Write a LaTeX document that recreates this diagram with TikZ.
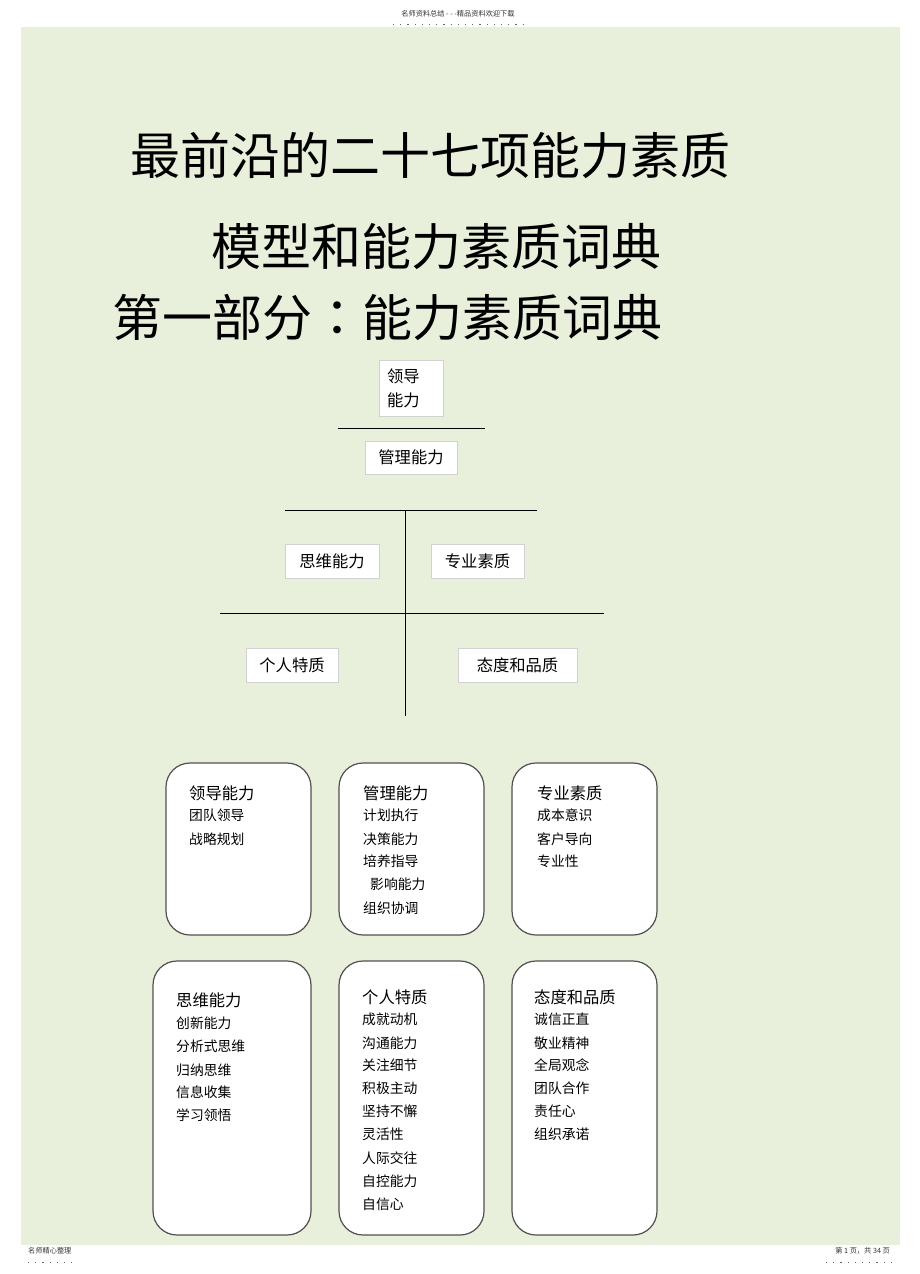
\documentclass[tikz,border=0pt]{standalone}
\usepackage{fontspec}
\setmainfont{Noto Sans CJK SC}
\newfontfamily\tcfont{Noto Sans CJK TC}
\definecolor{bg}{HTML}{E8F0DC}
\definecolor{boxline}{HTML}{D2D2D2}
\definecolor{rline}{HTML}{505050}
\begin{document}
\begin{tikzpicture}[x=1pt,y=-1pt,
  title/.style={inner sep=0, font=\fontsize{50}{56}\selectfont},
  tbox/.style={draw=boxline, line width=0.8, fill=white, inner sep=0, font=\fontsize{16.3}{24}\selectfont},
  rbox/.style={draw=rline, line width=1.2, fill=white, rounded corners=24, inner sep=0},
  head/.style={inner sep=0, anchor=west, font=\fontsize{16.3}{20}\selectfont},
  item/.style={inner sep=0, anchor=west, font=\fontsize{13.8}{16}\selectfont},
  small/.style={inner sep=0, font=\fontsize{7.2}{9}\selectfont, text=black!80},
  dots/.style={black!60, line width=0.8, dash pattern=on 1.2pt off 6pt},
  rule/.style={black, line width=1}]
\useasboundingbox (0,0) rectangle (920,1274);
\fill[white] (0,0) rectangle (920,1274);
\fill[bg] (21,27) rectangle (900,1245);

% header / footer
\node[small] (hdr) at (458,14) {名师资料总结 - - -精品资料欢迎下载};
\draw[dots] (393,24) -- (527,24);
\node[small, anchor=west] (fl) at (28,1251) {名师精心整理};
\draw[dots] (28,1262) -- (76,1262);
\node[small, anchor=east] (fr) at (890,1251) {第 1 页，共 34 页};
\draw[dots] (826,1262) -- (893,1262);

% titles
\node[title] (t1) at (430.5,155) {最前沿的二十七项能力素质};
\node[title] (t2) at (436.5,247) {模型和能力素质词典};
\node[title] (t3) at (387,317) {第一部分{\tcfont ：}能力素质词典};

% top structure
\node[tbox, text width=48, inner xsep=8, minimum height=56, align=left] (lead) at (411,388) {领导\\能力};
\coordinate (l1a) at (338,428); \coordinate (l1b) at (485,428);
\draw[rule] (l1a) -- (l1b);
\node[tbox, minimum width=92, minimum height=33] (mgmt) at (411,457.5) {管理能力};
\coordinate (l2a) at (285,510); \coordinate (l2b) at (537,510);
\coordinate (va) at (405,510); \coordinate (vb) at (405,716);
\draw[rule] (l2a) -- (l2b);
\draw[rule] (va) -- (vb);
\node[tbox, minimum width=94, minimum height=34] (think) at (332,561) {思维能力};
\node[tbox, minimum width=93, minimum height=34] (prof) at (477.5,561) {专业素质};
\coordinate (l3a) at (220,613); \coordinate (l3b) at (604,613);
\draw[rule] (l3a) -- (l3b);
\node[tbox, minimum width=92, minimum height=34] (pers) at (292,665) {个人特质};
\node[tbox, minimum width=119, minimum height=34] (att) at (517.5,665) {态度和品质};

% rounded boxes row 1
\node[rbox, minimum width=145, minimum height=172] (c1) at (238.5,849) {};
\node[rbox, minimum width=145, minimum height=172] (c2) at (411.5,849) {};
\node[rbox, minimum width=145, minimum height=172] (c3) at (584.5,849) {};
% row 2
\node[rbox, minimum width=158, minimum height=274] (c4) at (232,1098) {};
\node[rbox, minimum width=145, minimum height=274] (c5) at (411.5,1098) {};
\node[rbox, minimum width=145, minimum height=274] (c6) at (584.5,1098) {};

% box 1
\node[head] (c1h) at (189,793) {领导能力};
\node[item] (c1i1) at (189,815) {团队领导};
\node[item] (c1i2) at (189,839) {战略规划};
% box 2
\node[head] (c2h) at (363,793) {管理能力};
\node[item] (c2i1) at (363,815) {计划执行};
\node[item] (c2i2) at (363,839) {决策能力};
\node[item] (c2i3) at (363,861) {培养指导};
\node[item] (c2i4) at (370,884) {影响能力};
\node[item] (c2i5) at (363,908) {组织协调};
% box 3
\node[head] (c3h) at (537,793) {专业素质};
\node[item] (c3i1) at (537,815) {成本意识};
\node[item] (c3i2) at (537,839) {客户导向};
\node[item] (c3i3) at (537,861) {专业性};
% box 4
\node[head] (c4h) at (176,1000) {思维能力};
\node[item] (c4i1) at (176,1023) {创新能力};
\node[item] (c4i2) at (176,1046) {分析式思维};
\node[item] (c4i3) at (176,1070) {归纳思维};
\node[item] (c4i4) at (176,1092) {信息收集};
\node[item] (c4i5) at (176,1115) {学习领悟};
% box 5
\node[head] (c5h) at (362,997) {个人特质};
\node[item] (c5i1) at (362,1019) {成就动机};
\node[item] (c5i2) at (362,1043) {沟通能力};
\node[item] (c5i3) at (362,1065) {关注细节};
\node[item] (c5i4) at (362,1088) {积极主动};
\node[item] (c5i5) at (362,1111) {坚持不懈};
\node[item] (c5i6) at (362,1134) {灵活性};
\node[item] (c5i7) at (362,1158) {人际交往};
\node[item] (c5i8) at (362,1181) {自控能力};
\node[item] (c5i9) at (362,1204) {自信心};
% box 6
\node[head] (c6h) at (534,997) {态度和品质};
\node[item] (c6i1) at (534,1019) {诚信正直};
\node[item] (c6i2) at (534,1043) {敬业精神};
\node[item] (c6i3) at (534,1065) {全局观念};
\node[item] (c6i4) at (534,1088) {团队合作};
\node[item] (c6i5) at (534,1111) {责任心};
\node[item] (c6i6) at (534,1134) {组织承诺};
\end{tikzpicture}
\end{document}
